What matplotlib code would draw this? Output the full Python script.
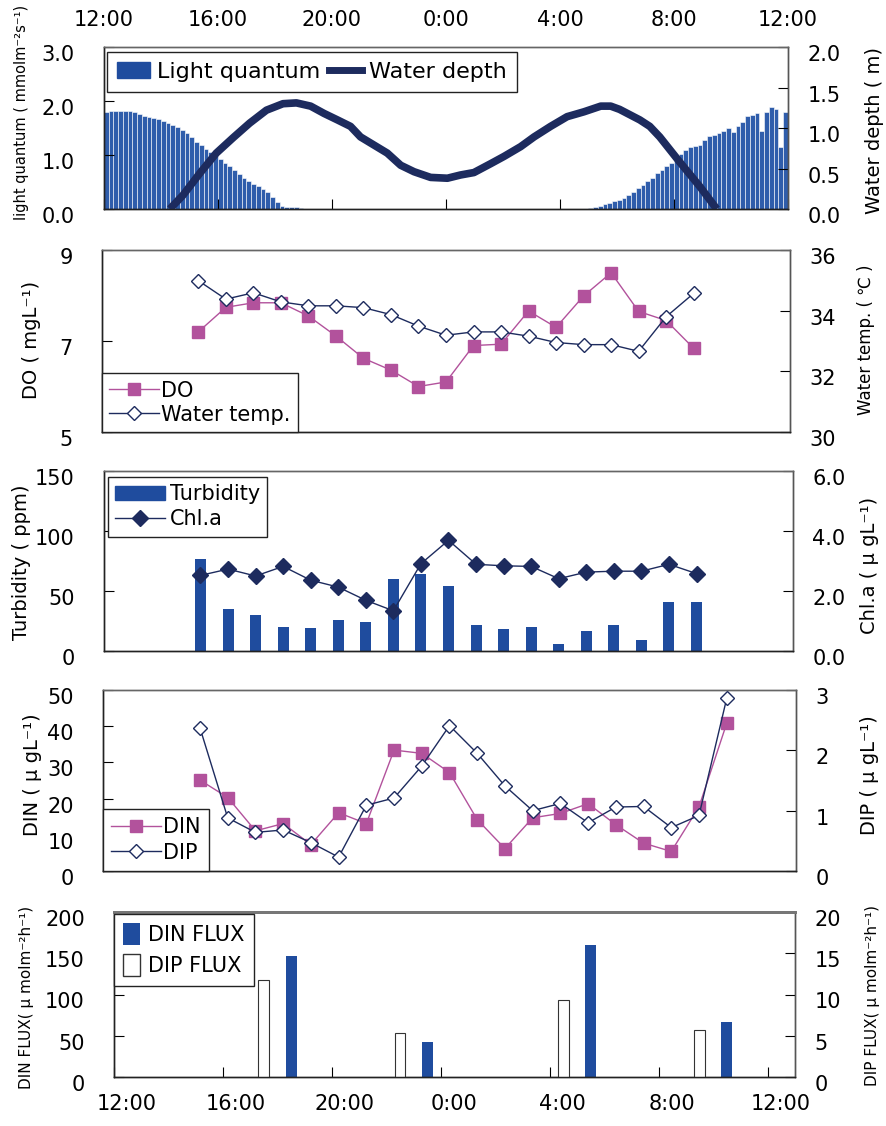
import numpy as np
import matplotlib
matplotlib.use('Agg')
import matplotlib.pyplot as plt
from matplotlib.transforms import ScaledTranslation
from matplotlib.lines import Line2D
from matplotlib.patches import Patch

# ---- data ----
# light quantum, 10-min steps, 12:00-18:50 and 5:00-11:50 (mmol m-2 s-1)
light_pm = [1.80, 1.81, 1.82, 1.82, 1.82, 1.81,
            1.79, 1.76, 1.73, 1.70, 1.68, 1.66,
            1.63, 1.60, 1.56, 1.51, 1.46, 1.40,
            1.33, 1.25, 1.19, 1.12, 1.05, 0.99,
            0.92, 0.86, 0.80, 0.73, 0.65, 0.58,
            0.51, 0.46, 0.42, 0.37, 0.31, 0.22,
            0.13, 0.06, 0.04, 0.03, 0.03, 0.02]
light_am = [0.01, 0.03, 0.06, 0.09, 0.11, 0.14,
            0.17, 0.21, 0.26, 0.32, 0.38, 0.44,
            0.51, 0.58, 0.66, 0.73, 0.79, 0.85,
            0.93, 1.02, 1.09, 1.15, 1.17, 1.19,
            1.27, 1.35, 1.37, 1.40, 1.45, 1.50,
            1.42, 1.53, 1.62, 1.72, 1.74, 1.77,
            1.45, 1.80, 1.88, 1.86, 1.15, 1.80]

# water depth (hours after 12:00, m)
depth_h = [2.31, 2.77, 3.36, 3.94, 4.53, 5.11, 5.70, 6.28, 6.75, 7.25, 7.72,
           8.19, 8.65, 9.00, 9.47, 9.94, 10.41, 10.88, 11.46, 12.05, 12.51,
           12.98, 13.57, 14.04, 14.62, 15.09, 15.67, 16.25, 16.84, 17.43,
           17.78, 18.09, 18.80, 19.15, 19.50, 20.20, 20.90, 21.50]
depth_m = [0.00, 0.17, 0.44, 0.69, 0.88, 1.06, 1.22, 1.30, 1.31, 1.27, 1.18,
           1.10, 1.02, 0.89, 0.79, 0.69, 0.54, 0.46, 0.39, 0.38, 0.42,
           0.45, 0.56, 0.65, 0.77, 0.89, 1.02, 1.14, 1.20, 1.27,
           1.27, 1.23, 1.10, 1.02, 0.89, 0.58, 0.28, 0.00]

# hourly samples 15:00 .. 9:00 (hour index from 12:00)
hours = list(range(3, 22))
do = [7.20, 7.74, 7.84, 7.84, 7.55, 7.11, 6.62, 6.36, 6.00, 6.10,
      6.90, 6.93, 7.66, 7.30, 7.99, 8.50, 7.65, 7.45, 6.84]
wtemp = [34.99, 34.38, 34.59, 34.29, 34.16, 34.16, 34.10, 33.87, 33.49, 33.19,
         33.30, 33.30, 33.16, 32.95, 32.88, 32.88, 32.66, 33.80, 34.57]
turbidity = [77, 35, 30, 20, 19, 26, 24, 60, 64, 54,
             22, 18, 20, 6, 17, 22, 9, 41, 41]
chla = [2.52, 2.73, 2.50, 2.82, 2.36, 2.13, 1.69, 1.34, 2.91, 3.69,
        2.89, 2.84, 2.82, 2.41, 2.63, 2.66, 2.66, 2.89, 2.58]

# 15:00 .. 10:00
hours_n = list(range(3, 23))
din = [25.1, 20.3, 11.1, 13.1, 7.3, 16.1, 13.1, 33.4, 32.5, 27.2,
       14.2, 6.2, 14.7, 15.9, 18.6, 12.8, 7.7, 5.4, 17.7, 40.8]
dip = [2.37, 0.88, 0.64, 0.68, 0.47, 0.23, 1.09, 1.21, 1.74, 2.41,
       1.95, 1.41, 1.00, 1.12, 0.80, 1.06, 1.07, 0.72, 0.92, 2.86]

# fluxes
dip_flux_h = [5.5, 10.5, 16.5, 21.5]
dip_flux = [11.8, 5.3, 9.3, 5.7]
din_flux_h = [6.5, 11.5, 17.5, 22.5]
din_flux = [147, 43, 160, 67]

time_labels = ['12:00', '16:00', '20:00', '0:00', '4:00', '8:00', '12:00']

# ---- colours ----
BLUE = '#1f4c9e'
LIGHT = '#2f5dab'
NAVY = '#1d2b5e'
PINK = '#b2529c'
SPINE = '#222222'

W, H = 887, 1126
fig = plt.figure(figsize=(W / 100, H / 100), dpi=100)
plt.rcParams['font.family'] = 'DejaVu Sans'


def box(l, t, r, b):
    return [l / W, 1 - b / H, (r - l) / W, (b - t) / H]


def style(ax, tw, xticks=False):
    for a in (ax, tw):
        for s in a.spines.values():
            s.set_color(SPINE)
            s.set_linewidth(1.0)
        a.spines['top'].set_color('#666666')
        a.spines['right'].set_color('#555555')
    ax.tick_params(axis='y', direction='in', length=7, labelsize=15, pad=21)
    tw.tick_params(axis='y', direction='in', length=7, labelsize=15, pad=14)
    if not xticks:
        ax.tick_params(axis='x', bottom=False, labelbottom=False)


def shift(labels, dx, dy):
    for lbl in labels:
        lbl.set_transform(lbl.get_transform() + ScaledTranslation(dx, dy, fig.dpi_scale_trans))


def legend(ax, handles, labels, loc, anchor, size=15, **kw):
    lg = ax.legend(handles, labels, loc=loc, bbox_to_anchor=anchor, borderaxespad=0,
                   fancybox=False, framealpha=1, edgecolor='#222222', fontsize=size, **kw)
    lg.get_frame().set_linewidth(1.0)
    return lg


def ylab(x, y, s, size):
    fig.text(x / W, 1 - y / H, s, rotation=90, ha='center', va='center', fontsize=size)


# ---- panel 1 ----
ax1 = fig.add_axes(box(104, 47, 788, 209))
ax1b = ax1.twinx()
t_pm = np.arange(len(light_pm)) / 6.0
t_am = 17 + np.arange(len(light_am)) / 6.0
ax1.bar(t_pm, light_pm, width=1 / 6, align='edge', color=LIGHT, edgecolor='white', linewidth=0.4)
ax1.bar(t_am, light_am, width=1 / 6, align='edge', color=LIGHT, edgecolor='white', linewidth=0.4)
ax1b.plot(depth_h, depth_m, color=NAVY, lw=5.5, solid_capstyle='butt')
ax1.set_xlim(0, 24)
ax1.set_ylim(0, 3)
ax1.set_yticks([0, 1, 2, 3], ['0.0', '1.0', '2.0', '3.0'])
ax1b.set_ylim(0, 2)
ax1b.set_yticks([0, 0.5, 1, 1.5, 2], ['0.0', '0.5', '1.0', '1.5', '2.0'])
ax1.set_xticks(range(0, 25, 4), time_labels)
style(ax1, ax1b, xticks=True)
ax1.tick_params(axis='x', direction='in', length=7, bottom=True, top=False,
                labelbottom=False, labeltop=True, labelsize=15, pad=12)
legend(ax1b, [Patch(color=BLUE), Line2D([], [], color=NAVY, lw=5)],
       ['Light quantum', 'Water depth'], 'upper left', (0.004, 0.97), size=16,
       ncol=2, columnspacing=0.4, handlelength=1.5, handletextpad=0.3,
       borderpad=0.45)
ylab(22, 112, 'light quantum ( mmolm⁻²s⁻¹)', 10.5)
ylab(875, 130, 'Water depth ( m)', 14)

# ---- panel 2 ----
ax2 = fig.add_axes(box(102, 250, 790, 432))
ax2b = ax2.twinx()
ax2.plot(hours, do, color=PINK, marker='s', ms=9, lw=1, mec=PINK)
ax2b.plot(hours, wtemp, color=NAVY, marker='D', ms=7, lw=1, mfc='white', mec=NAVY)
ax2.set_xlim(-0.5, 24.5)
ax2.set_ylim(5, 9)
ax2.set_yticks([5, 7, 9])
ax2b.set_ylim(30, 36)
ax2b.set_yticks([30, 32, 34, 36])
style(ax2, ax2b)
legend(ax2b, [Line2D([], [], color=PINK, marker='s', ms=9, lw=1),
              Line2D([], [], color=NAVY, marker='D', ms=7, lw=1, mfc='white')],
       ['DO', 'Water temp.'], 'lower left', (0, 0), handlelength=2.4,
       handletextpad=0.1, labelspacing=0.2, borderpad=0.35)
ylab(32, 340, 'DO ( mgL⁻¹)', 14)
ylab(866, 340, 'Water temp. ( ℃ )', 12)

# ---- panel 3 ----
ax3 = fig.add_axes(box(104, 471, 793, 651))
ax3b = ax3.twinx()
ax3.bar(hours, turbidity, width=0.4, color=BLUE)
ax3b.plot(hours, chla, color=NAVY, marker='D', ms=8, lw=1)
ax3.set_xlim(-0.5, 24.5)
ax3.set_ylim(0, 150)
ax3.set_yticks([0, 50, 100, 150])
ax3b.set_ylim(0, 6)
ax3b.set_yticks([0, 2, 4, 6], ['0.0', '2.0', '4.0', '6.0'])
style(ax3, ax3b)
legend(ax3b, [Patch(color=BLUE), Line2D([], [], color=NAVY, marker='D', ms=8, lw=1)],
       ['Turbidity', 'Chl.a'], 'upper left', (0.006, 0.967), handlelength=2.4,
       handletextpad=0.2, labelspacing=0.25, borderpad=0.35)
ylab(22, 562, 'Turbidity ( ppm)', 14)
ylab(870, 565, 'Chl.a ( μ gL⁻¹)', 14)

# ---- panel 4 ----
ax4 = fig.add_axes(box(103, 690, 796, 871))
ax4b = ax4.twinx()
ax4.plot(hours_n, din, color=PINK, marker='s', ms=9, lw=1, mec=PINK)
ax4b.plot(hours_n, dip, color=NAVY, marker='D', ms=7, lw=1, mfc='white', mec=NAVY)
ax4.set_xlim(-0.5, 24.5)
ax4.set_ylim(0, 50)
ax4.set_yticks(range(0, 51, 10))
ax4b.set_ylim(0, 3)
ax4b.set_yticks([0, 1, 2, 3])
style(ax4, ax4b)
legend(ax4b, [Line2D([], [], color=PINK, marker='s', ms=9, lw=1),
              Line2D([], [], color=NAVY, marker='D', ms=7, lw=1, mfc='white')],
       ['DIN', 'DIP'], 'lower left', (0, 0), handlelength=2.4,
       handletextpad=0.1, labelspacing=0.25, borderpad=0.4)
ylab(33, 775, 'DIN ( μ gL⁻¹)', 14)
ylab(870, 775, 'DIP ( μ gL⁻¹)', 14)

# ---- panel 5 ----
ax5 = fig.add_axes(box(114, 912, 795, 1077))
ax5b = ax5.twinx()
ax5.bar(din_flux_h, din_flux, width=0.4, color=BLUE)
ax5b.bar(dip_flux_h, dip_flux, width=0.4, color='white', edgecolor='#333333', linewidth=0.8)
ax5.set_xlim(0, 25)
ax5.set_ylim(0, 200)
ax5.set_yticks(range(0, 201, 50))
ax5b.set_ylim(0, 20)
ax5b.set_yticks(range(0, 21, 5))
ax5.set_xticks(range(0, 25, 4), time_labels)
style(ax5, ax5b, xticks=True)
ax5.tick_params(axis='x', direction='in', length=7, labelsize=15, pad=12)
ax5.spines['top'].set_linewidth(2.0)
ax5b.spines['top'].set_linewidth(2.0)
ax5b.spines['top'].set_color('#777777')
legend(ax5b, [Patch(facecolor=BLUE), Patch(facecolor='white', edgecolor='#333333')],
       ['DIN FLUX', 'DIP FLUX'], 'upper left', (0, 0.988), handlelength=0.8,
       handleheight=1.2, handletextpad=0.4, labelspacing=0.45, borderpad=0.45)
ylab(27, 997, 'DIN FLUX( μ molm⁻²h⁻¹)', 11)
ylab(873, 995, 'DIP FLUX( μ molm⁻²h⁻¹)', 11)

# excel-style label offsets
for a in (ax1, ax1b, ax2, ax2b, ax3, ax3b, ax4, ax4b, ax5, ax5b):
    shift(a.get_yticklabels(), 0, -0.06)
shift(ax5.get_xticklabels(), 0.13, 0)

fig.savefig('out.png', dpi=100)
